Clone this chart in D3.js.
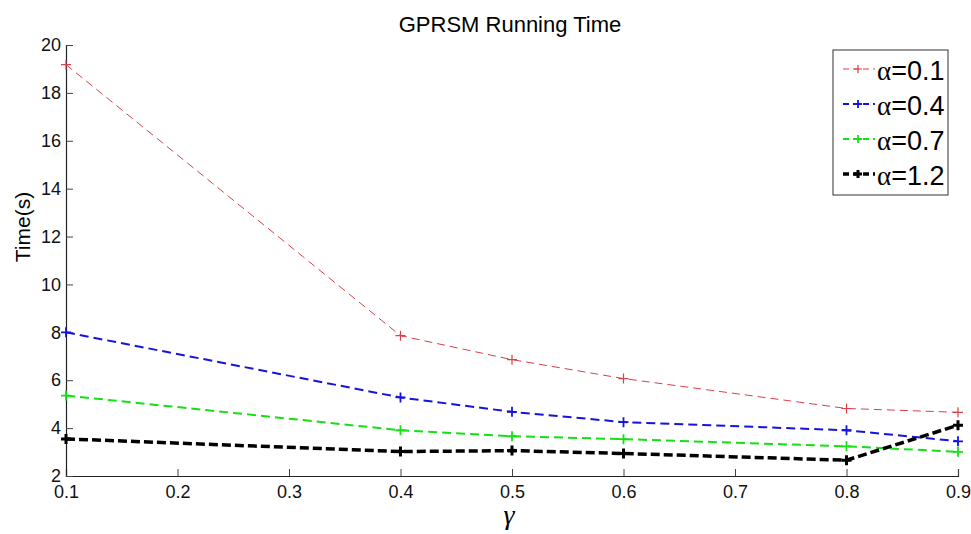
<!DOCTYPE html>
<html>
<head>
<meta charset="utf-8">
<script src="https://cdn.jsdelivr.net/npm/d3@7"></script>
<style>
body{margin:0;background:#fff;}
text{font-family:Arial,"Liberation Sans",sans-serif;}
</style>
</head>
<body>
<div class="canvas"></div>
<script>
// data
const gammas = [0.1, 0.4, 0.5, 0.6, 0.8, 0.9];
const alphaLabels = ['0.1', '0.4', '0.7', '1.2'];
const timeA01 = [19.18, 7.86, 6.86, 6.07, 4.82, 4.66];
const timeA04 = [8.0, 5.28, 4.68, 4.25, 3.91, 3.45];
const timeA07 = [5.36, 3.91, 3.66, 3.54, 3.24, 3.01];
const timeA12 = [3.55, 3.02, 3.06, 2.94, 2.66, 4.12];
const xTicks = [0.1, 0.2, 0.3, 0.4, 0.5, 0.6, 0.7, 0.8, 0.9];
const yTicks = [2, 4, 6, 8, 10, 12, 14, 16, 18, 20];

const series = [
  {name: alphaLabels[0], values: timeA01, color: '#d8404a', width: 1, dash: '8,5', mark: 1.2},
  {name: alphaLabels[1], values: timeA04, color: '#1414dc', width: 2, dash: '9,5', mark: 1.8},
  {name: alphaLabels[2], values: timeA07, color: '#14e014', width: 2, dash: '9,5', mark: 1.8},
  {name: alphaLabels[3], values: timeA12, color: '#000000', width: 3.5, dash: '9,4', mark: 3}
];

const svg = d3.select('.canvas')
  .append('svg')
    .attr('width', 971)
    .attr('height', 534);

const margin = {top:45, right:13, bottom:58, left:66};
const graphWidth = 971 - margin.left - margin.right;
const graphHeight = 534 - margin.top - margin.bottom;

const graph = svg.append('g')
  .attr('transform', `translate(${margin.left},${margin.top})`);

const x = d3.scaleLinear().domain([0.1, 0.9]).range([0, graphWidth]);
const y = d3.scaleLinear().domain([2, 20]).range([graphHeight, 0]);

// axes, ticks pointing inward
const xAxis = d3.axisBottom(x).tickValues(xTicks).tickSize(-7).tickPadding(9).tickFormat(d3.format('.1f'));
const yAxis = d3.axisLeft(y).tickValues(yTicks).tickSize(-7).tickPadding(5).tickFormat(d3.format('d'));

const xAxisGroup = graph.append('g')
  .attr('transform', `translate(0,${graphHeight})`)
  .call(xAxis);
const yAxisGroup = graph.append('g').call(yAxis);

[xAxisGroup, yAxisGroup].forEach(g => {
  g.select('.domain').attr('stroke', '#222').attr('stroke-width', 1.2);
  g.selectAll('.tick line').attr('stroke', '#444').attr('stroke-width', 1);
  g.selectAll('text').attr('font-size', 18).attr('fill', '#111')
    .style('font-family', 'Arial, "Liberation Sans", sans-serif');
});

// lines
const line = d3.line()
  .x((d, i) => x(gammas[i]))
  .y(d => y(d));

series.forEach(s => {
  graph.append('path')
    .datum(s.values)
    .attr('fill', 'none')
    .attr('stroke', s.color)
    .attr('stroke-width', s.width)
    .attr('stroke-dasharray', s.dash)
    .attr('d', line);

  graph.selectAll(null)
    .data(s.values)
    .enter()
    .append('path')
    .attr('d', 'M-5,0H5M0,-5V5')
    .attr('stroke', s.color)
    .attr('stroke-width', s.mark)
    .attr('transform', (d, i) => `translate(${x(gammas[i])},${y(d)})`);
});

// title and labels
svg.append('text')
  .attr('x', 510).attr('y', 32)
  .attr('text-anchor', 'middle')
  .attr('font-size', 22)
  .text('GPRSM Running Time');

svg.append('text')
  .attr('transform', 'translate(30,227) rotate(-90)')
  .attr('text-anchor', 'middle')
  .attr('font-size', 21)
  .text('Time(s)');

svg.append('text')
  .attr('x', 509).attr('y', 524)
  .attr('text-anchor', 'middle')
  .attr('font-size', 28)
  .style('font-family', '"Liberation Serif", "DejaVu Serif", serif')
  .style('font-style', 'italic')
  .text('γ');

// legend
const legend = svg.append('g').attr('transform', 'translate(833,50)');
legend.append('rect')
  .attr('width', 115).attr('height', 145)
  .attr('fill', '#fff').attr('stroke', '#333').attr('stroke-width', 1);

series.forEach((s, i) => {
  const g = legend.append('g').attr('transform', `translate(0,${19 + i * 35})`);
  g.append('line')
    .attr('x1', 10).attr('x2', 42).attr('y1', 0).attr('y2', 0)
    .attr('stroke', s.color).attr('stroke-width', s.width)
    .attr('stroke-dasharray', '6,4');
  g.append('path')
    .attr('d', 'M-4,0H4M0,-4V4')
    .attr('transform', 'translate(25,0)')
    .attr('stroke', s.color).attr('stroke-width', s.mark);
  const t = g.append('text')
    .attr('x', 44).attr('y', 11)
    .attr('font-size', 27);
  t.append('tspan')
    .style('font-family', '"Liberation Serif", serif')
    .text('α');
  t.append('tspan')
    .text('=' + s.name);
});
</script>
</body>
</html>
